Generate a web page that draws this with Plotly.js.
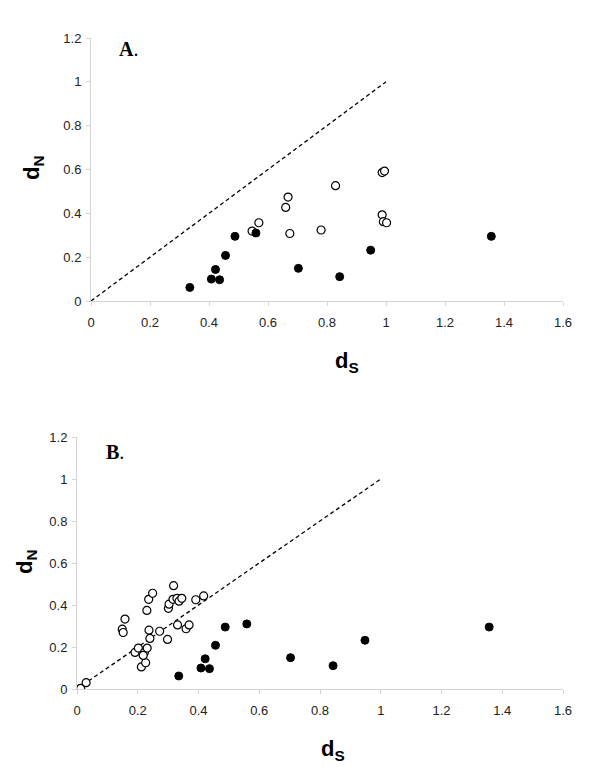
<!DOCTYPE html>
<html>
<head>
<meta charset="utf-8">
<script src="https://cdn.plot.ly/plotly-3.0.1.min.js"></script>
<style>html,body{margin:0;padding:0;background:#fff;}#chart{width:600px;height:776px;}</style>
</head>
<body>
<div id="chart"></div>
<script>
// Panel A
const aFilledDs = [0.335, 0.408, 0.422, 0.436, 0.456, 0.488, 0.559, 0.703, 0.843, 0.948, 1.357];
const aFilledDn = [0.062, 0.100, 0.144, 0.097, 0.208, 0.295, 0.310, 0.149, 0.111, 0.232, 0.295];
const aOpenDs = [0.546, 0.569, 0.660, 0.668, 0.674, 0.780, 0.829, 0.987, 0.995, 0.987, 0.991, 1.002];
const aOpenDn = [0.319, 0.357, 0.427, 0.474, 0.308, 0.324, 0.526, 0.586, 0.593, 0.393, 0.362, 0.357];
// Panel B
const bFilledDs = aFilledDs;
const bFilledDn = aFilledDn;
const bOpenDs = [0.012, 0.030, 0.149, 0.152, 0.158, 0.191, 0.202, 0.222, 0.231, 0.230, 0.236, 0.249, 0.237, 0.240,
                 0.212, 0.226, 0.218, 0.272, 0.298, 0.301, 0.303, 0.318, 0.316, 0.329, 0.336, 0.345, 0.331, 0.359,
                 0.369, 0.391, 0.417];
const bOpenDn = [0.003, 0.030, 0.285, 0.269, 0.333, 0.174, 0.195, 0.174, 0.195, 0.374, 0.427, 0.456, 0.280, 0.241,
                 0.105, 0.125, 0.160, 0.275, 0.236, 0.384, 0.404, 0.492, 0.427, 0.432, 0.418, 0.432, 0.305, 0.287,
                 0.305, 0.425, 0.443];
const diagX = [0, 1];
const diagY = [0, 1];
const xTicks = [0, 0.2, 0.4, 0.6, 0.8, 1, 1.2, 1.4, 1.6];
const yTicks = [0, 0.2, 0.4, 0.6, 0.8, 1, 1.2];
const xTitle = '<b>d<sub>S</sub></b>';
const yTitle = '<b>d<sub>N</sub></b>';
const panelLabels = ['A', 'B'];

const filledMarker = {symbol: 'circle', size: 8, color: '#000', line: {color: '#000', width: 1}};
const openMarker = {symbol: 'circle', size: 8, color: '#fff', line: {color: '#000', width: 1.2}};
const dashLine = {color: '#000', width: 1.3, dash: '4px,3px'};

const traces = [
  {x: diagX, y: diagY, mode: 'lines', line: dashLine, xaxis: 'x', yaxis: 'y', hoverinfo: 'skip'},
  {x: aOpenDs, y: aOpenDn, mode: 'markers', marker: openMarker, xaxis: 'x', yaxis: 'y'},
  {x: aFilledDs, y: aFilledDn, mode: 'markers', marker: filledMarker, xaxis: 'x', yaxis: 'y'},
  {x: diagX, y: diagY, mode: 'lines', line: dashLine, xaxis: 'x2', yaxis: 'y2', hoverinfo: 'skip'},
  {x: bOpenDs, y: bOpenDn, mode: 'markers', marker: openMarker, xaxis: 'x2', yaxis: 'y2'},
  {x: bFilledDs, y: bFilledDn, mode: 'markers', marker: filledMarker, xaxis: 'x2', yaxis: 'y2'}
];

const tickFont = {family: 'Liberation Sans, Arial, sans-serif', size: 13, color: '#222'};
const titleFont = {family: 'Liberation Sans, Arial, sans-serif', size: 22, color: '#000'};
const panelFont = {family: 'Liberation Serif, Times New Roman, serif', size: 20, color: '#000'};

function xAx(domain, anchor) {
  return {domain: domain, anchor: anchor, range: [0, 1.6], tickvals: xTicks, ticktext: xTicks.map(String),
    showgrid: false, zeroline: false, showline: true, linecolor: '#d4d4d4', linewidth: 1,
    ticks: 'outside', ticklen: 4, tickcolor: '#d4d4d4', tickfont: tickFont, ticklabelstandoff: 5};
}
function yAx(domain, anchor) {
  return {domain: domain, anchor: anchor, range: [0, 1.2], tickvals: yTicks, ticktext: yTicks.map(String),
    showgrid: false, zeroline: false, showline: true, linecolor: '#d4d4d4', linewidth: 1,
    ticks: 'outside', ticklen: 4, tickcolor: '#d4d4d4', tickfont: tickFont, ticklabelstandoff: 2};
}

function paperAnn(text, px, py, font, angle) {
  return {text: text, xref: 'paper', yref: 'paper', x: px / 600, y: 1 - py / 776,
    xanchor: 'center', yanchor: 'middle', showarrow: false, font: font, textangle: angle || 0};
}

const layout = {
  width: 600, height: 776,
  margin: {l: 0, r: 0, t: 0, b: 0},
  paper_bgcolor: '#fff', plot_bgcolor: '#fff',
  showlegend: false,
  xaxis: xAx([91 / 600, 563 / 600], 'y'),
  yaxis: yAx([1 - 301 / 776, 1 - 38 / 776], 'x'),
  xaxis2: xAx([77 / 600, 563 / 600], 'y2'),
  yaxis2: yAx([1 - 689 / 776, 1 - 437 / 776], 'x2'),
  annotations: [
    paperAnn('<b>' + panelLabels[0] + '</b>.', 128, 49, panelFont),
    paperAnn('<b>' + panelLabels[1] + '</b>.', 115, 452, panelFont),
    paperAnn(xTitle, 347, 362, titleFont),
    paperAnn(xTitle, 333, 750, titleFont),
    paperAnn(yTitle, 33, 168, titleFont, -90),
    paperAnn(yTitle, 26, 562, titleFont, -90)
  ]
};

Plotly.newPlot('chart', traces, layout, {displayModeBar: false, staticPlot: true});
</script>
</body>
</html>
